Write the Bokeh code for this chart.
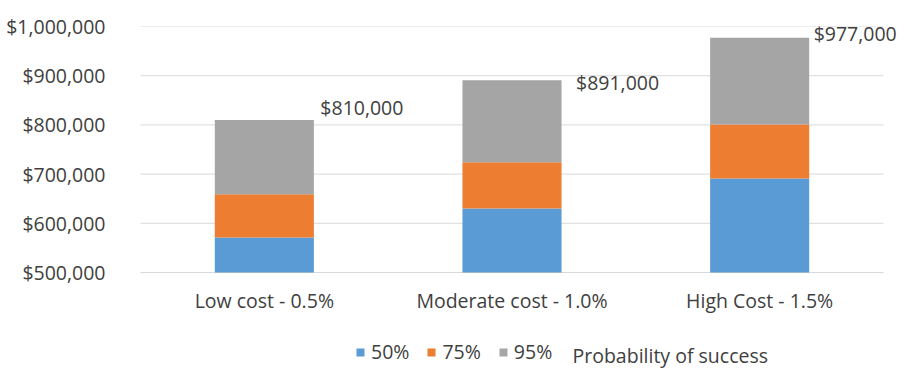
from bokeh.plotting import figure
from bokeh.models import (FactorRange, Range1d, FixedTicker, NumeralTickFormatter,
                          Legend, LegendItem, LabelSet, Label, ColumnDataSource)
from bokeh.core.properties import value
from bokeh.embed import file_html
from bokeh.resources import INLINE

# ---- data ----
categories = ["Low cost - 0.5%", "Moderate cost - 1.0%", "High Cost - 1.5%"]
p50 = [571000, 630000, 691000]
p75 = [659000, 724000, 801000]
p95 = [810000, 891000, 977000]
series_names = ["50%", "75%", "95%"]
total_labels = ["$810,000", "$891,000", "$977,000"]
y_ticks = [500000, 600000, 700000, 800000, 900000, 1000000]
legend_title = "Probability of success"

# ---- styling / layout ----
colors = ["#5B9BD5", "#ED7D31", "#A5A5A5"]
label_dx = [7, 15, 5]
label_dy = [12, -2, 4]
FONT = "Open Sans"
TXT = "#404040"
FS = "19.5px"

W, H = 912, 369
PLOT_L, PLOT_R = 140, 883          # visible plot area (gridlines)
TOP_PX, AXIS_PX = 26, 272
SIDE = W - PLOT_R                  # extra room on each side so labels are not clipped
FRAME_L = PLOT_L - SIDE
n = len(categories)
frame_w = W - FRAME_L
pad = SIDE * n / (frame_w - 2 * SIDE)   # absolute padding, applied on each side

Y_MIN, Y_MAX = y_ticks[0], y_ticks[-1]
y_start = Y_MIN - (Y_MAX - Y_MIN) * (H - AXIS_PX) / (AXIS_PX - TOP_PX)

src = ColumnDataSource(dict(cat=categories, base=[Y_MIN] * n,
                            p50=p50, p75=p75, p95=p95))

p = figure(x_range=FactorRange(factors=categories, range_padding=pad,
                               range_padding_units="absolute"),
           y_range=Range1d(y_start, Y_MAX),
           width=W, height=H, output_backend="svg", toolbar_location=None,
           min_border_left=FRAME_L, min_border_right=0, min_border_top=TOP_PX,
           min_border_bottom=0)
p.outline_line_color = None
p.xaxis.visible = False
p.xgrid.visible = False
p.ygrid.visible = False

# horizontal gridlines across the category span only
p.segment(x0=[0] * len(y_ticks), x1=[n] * len(y_ticks), y0=y_ticks, y1=y_ticks,
          line_color="#D9D9D9", line_width=1)

rs = []
for (b, t), c in zip([("base", "p50"), ("p50", "p75"), ("p75", "p95")], colors):
    rs.append(p.vbar(x="cat", bottom=b, top=t, width=0.4, fill_color=c,
                     line_color=None, source=src))

# category labels under the axis
csrc = ColumnDataSource(dict(cat=categories, y=[Y_MIN] * n))
p.text(x="cat", y="y", text="cat", y_offset=28, source=csrc,
       text_align="center", text_baseline="middle", text_font=value(FONT),
       text_font_size=FS, text_color=TXT)

tsrc = ColumnDataSource(dict(cat=categories, y=p95, t=total_labels,
                             dx=[49 + d for d in label_dx], dy=label_dy))
labels = LabelSet(x="cat", y="y", text="t", x_offset="dx", y_offset="dy", source=tsrc,
                  text_align="left", text_baseline="middle", text_font=value(FONT),
                  text_font_size=value(FS), text_color=value(TXT))
p.add_layout(labels)

p.yaxis.ticker = FixedTicker(ticks=y_ticks)
p.yaxis.formatter = NumeralTickFormatter(format="$0,0")
p.yaxis.axis_line_color = None
p.yaxis.major_tick_line_color = None
p.yaxis.minor_tick_line_color = None
p.yaxis.major_label_standoff = 0
p.yaxis.major_label_text_font = FONT
p.yaxis.major_label_text_font_size = FS
p.yaxis.major_label_text_color = TXT

items = [LegendItem(label=s, renderers=[r]) for s, r in zip(series_names, rs)]
legend = Legend(items=items, orientation="horizontal", location=(355 - FRAME_L, 4),
                glyph_width=10, glyph_height=10, label_standoff=6, spacing=17,
                padding=0, margin=0, border_line_alpha=0, background_fill_alpha=0,
                label_text_font=FONT, label_text_font_size=FS, label_text_color=TXT)
p.add_layout(legend)

p.add_layout(Label(x=572 - FRAME_L, y=14, x_units="screen", y_units="screen",
                   text=legend_title, text_baseline="middle", text_font=FONT,
                   text_font_size=FS, text_color=TXT))

open("out.html", "w").write(file_html(p, INLINE))
